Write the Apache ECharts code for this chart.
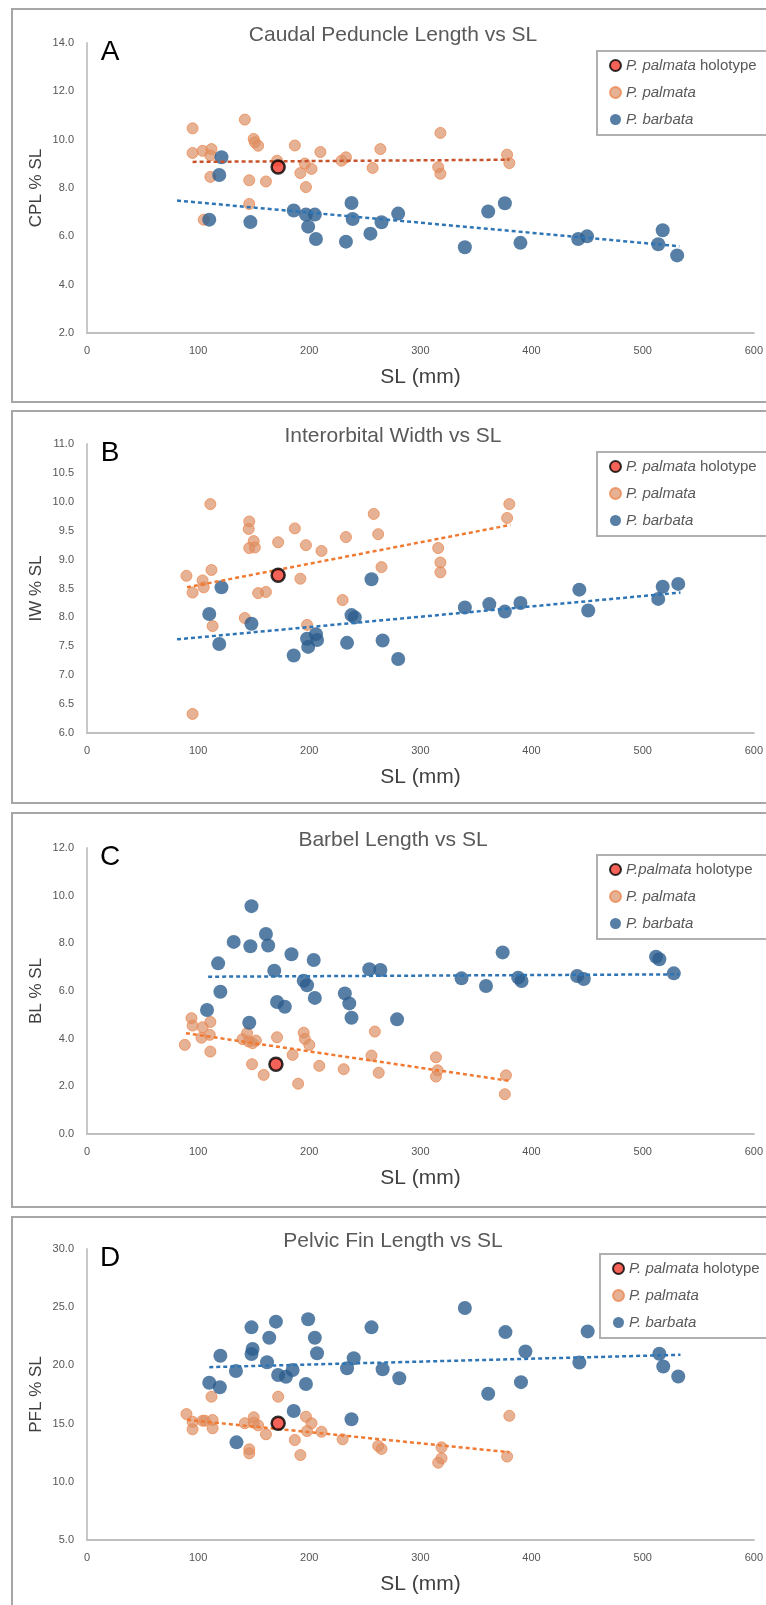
<!DOCTYPE html>
<html lang="en">
<head>
<meta charset="UTF-8">
<title>Morphometrics vs SL</title>
<script src="https://cdn.jsdelivr.net/npm/echarts@6/dist/echarts.min.js"></script>
<style>
body{margin:0;padding:0;background:#fff;}
#main{width:766px;height:1605px;}
</style>
</head>
<body>
<div id="main"></div>
<script>
// ---- data: [SL (mm), % SL] ----
var cplPalmata = [[95,10.47],[95,9.45],[104,9.54],[112,9.61],[111,9.35],[111,8.46],[105,6.69],[142,10.83],[150,10.03],
  [151,9.89],[154,9.75],[146,8.32],[146,7.34],[161,8.27],[171,9.13],[187,9.76],[196,9.01],[192,8.62],[202,8.79],
  [197,8.04],[210,9.49],[229,9.13],[233,9.27],[257,8.83],[264,9.61],[318,10.28],[316,8.86],[318,8.59],[378,9.38],[380,9.03]];
var cplBarbata = [[121,9.27],[119,8.54],[110,6.69],[147,6.59],[186,7.07],[197,6.90],[205,6.90],[199,6.40],[206,5.89],
  [233,5.78],[238,7.38],[239,6.72],[265,6.58],[255,6.11],[280,6.94],[340,5.55],[361,7.03],[376,7.37],[390,5.73],
  [442,5.89],[450,6.00],[514,5.67],[518,6.25],[531,5.21]];
var cplHolotype = [[172,8.87]];
var cplPalmataTrend = [[95,9.08],[380,9.17]];
var cplBarbataTrend = [[81,7.48],[533,5.59]];

var iwPalmata = [[89.5,8.72],[95,8.43],[104,8.64],[105,8.52],[112,8.82],[111,9.96],[113,7.85],[95,6.33],[146,9.66],
  [145.5,9.53],[150,9.32],[146,9.20],[151,9.21],[154,8.42],[161,8.44],[142,7.99],[172,9.30],[187,9.54],[197,9.25],
  [192,8.67],[198,7.87],[211,9.15],[230,8.30],[233,9.39],[258,9.79],[262,9.44],[265,8.87],[316,9.20],[318,8.95],
  [318,8.78],[378,9.72],[380,9.96]];
var iwBarbata = [[121,8.52],[110,8.06],[119,7.54],[148,7.89],[186,7.34],[198,7.63],[199,7.49],[206,7.71],[207,7.61],
  [234,7.56],[238,8.04],[241,8.00],[256,8.66],[266,7.60],[280,7.28],[340,8.17],[362,8.23],[376,8.10],[390,8.25],
  [443,8.48],[451,8.12],[514,8.32],[518,8.53],[532,8.58]];
var iwHolotype = [[172,8.73]];
var iwPalmataTrend = [[90,8.52],[381,9.60]];
var iwBarbataTrend = [[81,7.62],[534,8.43]];

var blPalmata = [[94,4.86],[95,4.55],[88,3.74],[104,4.48],[103,4.04],[111,4.70],[110.5,4.16],[111,3.46],[144,4.23],
  [140,3.98],[145.5,3.88],[149,3.81],[152,3.92],[148.5,2.93],[171,4.06],[159,2.48],[185,3.32],[195,4.25],[196,3.99],
  [200,3.74],[209,2.86],[231,2.72],[259,4.30],[256,3.29],[262.5,2.57],[190,2.11],[314,3.22],[315.5,2.67],[314,2.41],
  [377,2.46],[376,1.67]];
var blBarbata = [[148,9.56],[132,8.06],[147,7.88],[161,8.39],[163,7.91],[118,7.16],[120,5.97],[108,5.20],[146,4.67],
  [184,7.54],[168.5,6.85],[204,7.30],[195,6.43],[198,6.24],[205,5.71],[171,5.54],[178,5.34],[232,5.90],[236,5.48],
  [238,4.88],[254,6.91],[264,6.88],[279,4.81],[337,6.53],[359,6.21],[374,7.62],[388,6.56],[391,6.42],[441,6.63],
  [447,6.50],[512,7.44],[515,7.33],[528,6.74]];
var blHolotype = [[170,2.93]];
var blPalmataTrend = [[89,4.23],[380,2.23]];
var blBarbataTrend = [[109,6.60],[533,6.70]];

var pflPalmata = [[89.5,15.82],[95,15.16],[95,14.51],[104,15.25],[106,15.25],[113,15.31],[113,14.60],[112,17.31],
  [142,15.03],[150,15.54],[150,15.08],[154,14.85],[161,14.08],[146,12.79],[146,12.45],[172,17.31],[187,13.59],
  [192,12.30],[197,15.59],[202,15.03],[198,14.36],[211,14.30],[230,13.65],[262,13.08],[265,12.82],[319,12.96],
  [319,12.02],[316,11.64],[378,12.17],[380,15.67]];
var pflBarbata = [[120,20.83],[110,18.51],[119.5,18.12],[134,19.52],[134.5,13.39],[148,23.27],[149,21.41],[148,20.98],
  [170,23.76],[164,22.38],[162,20.27],[172,19.18],[179,19.03],[185,19.60],[197,18.40],[186,16.08],[199,23.96],
  [205,22.38],[207,21.04],[234,19.75],[240,20.61],[238,15.37],[256,23.27],[266,19.67],[281,18.89],[340,24.93],
  [361,17.56],[376.5,22.86],[390.5,18.56],[394.5,21.20],[443,20.25],[450.5,22.92],[515,21.00],[518.5,19.91],[532,19.05]];
var pflHolotype = [[172,15.03]];
var pflPalmataTrend = [[90,15.32],[380,12.54]];
var pflBarbataTrend = [[110,19.85],[534,20.91]];

var panels = [
  {letter:'A', title:'Caudal Peduncle Length vs SL', yName:'CPL % SL', yMin:2, yMax:14, yStep:2,
   palmata:cplPalmata, barbata:cplBarbata, holo:cplHolotype, pTrend:cplPalmataTrend, bTrend:cplBarbataTrend,
   holoName:'P. palmata holotype', pTrendColor:'#C8532B'},
  {letter:'B', title:'Interorbital Width vs SL', yName:'IW % SL', yMin:6, yMax:11, yStep:0.5,
   palmata:iwPalmata, barbata:iwBarbata, holo:iwHolotype, pTrend:iwPalmataTrend, bTrend:iwBarbataTrend,
   holoName:'P. palmata holotype', pTrendColor:'#F07A32'},
  {letter:'C', title:'Barbel Length vs SL', yName:'BL % SL', yMin:0, yMax:12, yStep:2,
   palmata:blPalmata, barbata:blBarbata, holo:blHolotype, pTrend:blPalmataTrend, bTrend:blBarbataTrend,
   holoName:'P.palmata holotype', pTrendColor:'#F07A32'},
  {letter:'D', title:'Pelvic Fin Length vs SL', yName:'PFL % SL', yMin:5, yMax:30, yStep:5,
   palmata:pflPalmata, barbata:pflBarbata, holo:pflHolotype, pTrend:pflPalmataTrend, bTrend:pflBarbataTrend,
   holoName:'P. palmata holotype', pTrendColor:'#F07A32'}
];

// ---- layout (pixels) ----
var gridTop = [43, 444, 848, 1249];
var gridH = [290, 289, 286, 291];
var boxTop = [9, 411, 813, 1217];
var boxBottom = [402, 803, 1207, 1640];
var legendTop = [51, 452, 855, 1254];
var FONT = "'Liberation Sans Narrow', 'Liberation Sans', Arial, sans-serif";

var grids = [], xAxes = [], yAxes = [], series = [], legends = [], graphics = [];

panels.forEach(function (p, i) {
  grids.push({left: 87, right: 11, top: gridTop[i], height: gridH[i]});
  xAxes.push({
    gridIndex: i, type: 'value', min: 0, max: 600, interval: 100,
    name: 'SL (mm)', nameLocation: 'middle', nameGap: 34,
    nameTextStyle: {fontFamily: FONT, fontSize: 21, color: '#404040'},
    axisLine: {lineStyle: {color: '#BFBFBF', width: 2}},
    axisTick: {show: false}, splitLine: {show: false},
    axisLabel: {fontFamily: FONT, fontSize: 11, color: '#555', margin: 12}
  });
  yAxes.push({
    gridIndex: i, type: 'value', min: p.yMin, max: p.yMax, interval: p.yStep,
    name: p.yName, nameLocation: 'middle', nameGap: 42, nameMoveOverlap: false,
    nameTextStyle: {fontFamily: "'Liberation Sans', Arial, sans-serif", fontSize: 17, color: '#404040'},
    axisLine: {show: true, lineStyle: {color: '#C8C8C8', width: 2}},
    axisTick: {show: false}, splitLine: {show: false},
    axisLabel: {fontFamily: FONT, fontSize: 11, color: '#555', margin: 13,
      formatter: function (v) { return v.toFixed(1); }}
  });

  series.push({
    name: 'P. palmata', type: 'scatter', xAxisIndex: i, yAxisIndex: i, data: p.palmata,
    symbolSize: 11, z: 2,
    itemStyle: {color: 'rgba(219,142,100,0.85)', borderColor: '#EE8A52', borderWidth: 1}
  });
  series.push({
    name: 'P. barbata', type: 'scatter', xAxisIndex: i, yAxisIndex: i, data: p.barbata,
    symbolSize: 14, z: 2,
    itemStyle: {color: '#2D5E8E'}
  });
  series.push({
    type: 'line', xAxisIndex: i, yAxisIndex: i, data: p.pTrend, symbol: 'none', silent: true, z: 3,
    lineStyle: {color: p.pTrendColor, width: 2.5, type: [4, 3]}
  });
  series.push({
    type: 'line', xAxisIndex: i, yAxisIndex: i, data: p.bTrend, symbol: 'none', silent: true, z: 3,
    lineStyle: {color: '#2E75B6', width: 2.5, type: [4, 3]}
  });
  series.push({
    name: p.holoName, type: 'scatter', xAxisIndex: i, yAxisIndex: i, data: p.holo,
    symbolSize: 13, z: 4,
    itemStyle: {color: '#F23B2E', borderColor: '#000', borderWidth: 2.5}
  });

  legends.push({
    data: [p.holoName, 'P. palmata', 'P. barbata'],
    orient: 'vertical', left: i === 3 ? 600 : 597, top: legendTop[i],
    icon: 'circle', itemWidth: 11, itemHeight: 11, itemGap: 12,
    padding: [7, 60, 8, 12],
    backgroundColor: '#fff', borderColor: '#B0B0B0', borderWidth: 2,
    selectedMode: false,
    textStyle: {fontFamily: FONT, fontSize: 15, color: '#595959',
      rich: {i: {fontFamily: FONT, fontSize: 15, color: '#595959', fontStyle: 'italic'}}},
    formatter: function (name) {
      var k = name.indexOf(' holotype');
      if (k > 0) return '{i|' + name.slice(0, k) + '} holotype';
      return '{i|' + name + '}';
    }
  });

  graphics.push({
    type: 'rect', silent: true, z: -10,
    shape: {x: 12, y: boxTop[i], width: 900, height: boxBottom[i] - boxTop[i]},
    style: {fill: 'none', stroke: '#A6A6A6', lineWidth: 2}
  });
  graphics.push({
    type: 'text', silent: true, x: 393, y: gridTop[i] - 8,
    style: {text: p.title, fontFamily: FONT, fontSize: 21, fill: '#595959',
      align: 'center', verticalAlign: 'middle', textAlign: 'center', textVerticalAlign: 'middle'}
  });
  graphics.push({
    type: 'text', silent: true, x: 110, y: gridTop[i] + 9,
    style: {text: p.letter, fontFamily: "'Liberation Sans', Arial, sans-serif", fontSize: 28, fill: '#000',
      align: 'center', verticalAlign: 'middle', textAlign: 'center', textVerticalAlign: 'middle'}
  });
});

var myChart = echarts.init(document.getElementById('main'));
myChart.setOption({
  backgroundColor: '#fff',
  animation: false,
  grid: grids,
  xAxis: xAxes,
  yAxis: yAxes,
  legend: legends,
  graphic: graphics,
  series: series
});
</script>
</body>
</html>
